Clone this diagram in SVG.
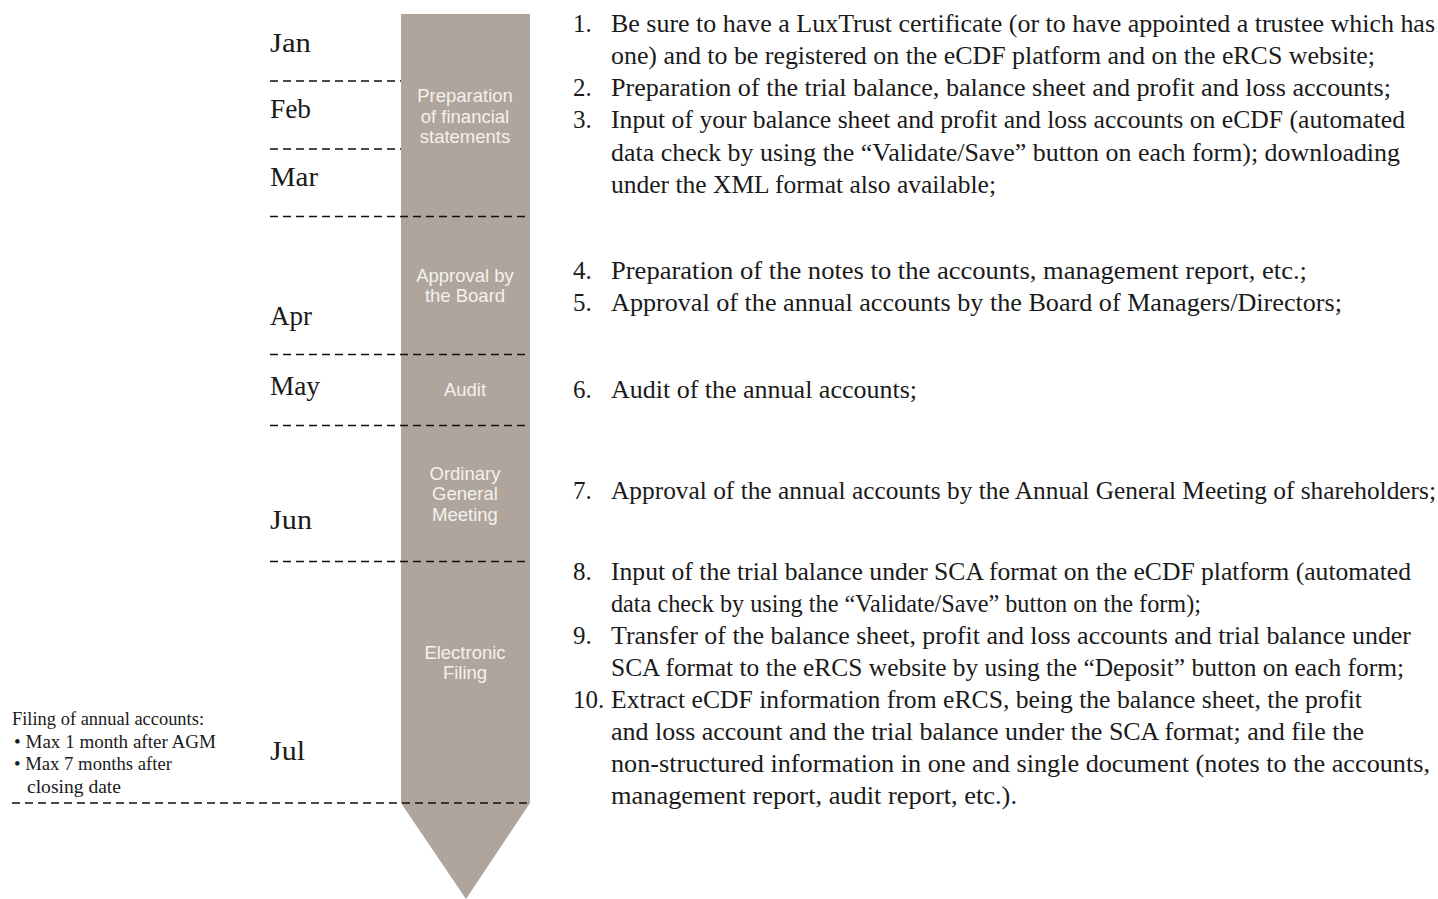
<svg xmlns="http://www.w3.org/2000/svg" width="1438" height="899" viewBox="0 0 1438 899">
<style>
.bg{fill:#ffffff}
.bar{fill:#afa59c}
.dash{stroke:#111111;stroke-width:1.6;stroke-dasharray:8 5;fill:none}
.month{font-family:"Liberation Serif","DejaVu Serif",serif;font-size:27px;fill:#1a1a1a}
.lbl{font-family:"Liberation Sans",Arial,sans-serif;font-size:18.5px;fill:#f4f1ee;text-anchor:middle}
.item{font-family:"Liberation Serif","DejaVu Serif",serif;font-size:25px;fill:#1a1a1a}
.note{font-family:"Liberation Serif","DejaVu Serif",serif;font-size:18.5px;fill:#1a1a1a}
</style>
<rect class="bg" x="0" y="0" width="1438" height="899"/>
<g id="timeline-bar">
<path class="bar" d="M401,14 H530 V803 L466,899 L401,803 Z"/>
</g>
<g id="connectors">
<line class="dash" x1="270" y1="81" x2="401" y2="81"/>
<line class="dash" x1="270" y1="149" x2="401" y2="149"/>
<line class="dash" x1="270" y1="216.5" x2="530" y2="216.5"/>
<line class="dash" x1="270" y1="354.5" x2="530" y2="354.5"/>
<line class="dash" x1="270" y1="425.5" x2="530" y2="425.5"/>
<line class="dash" x1="270" y1="561.5" x2="530" y2="561.5"/>
<line class="dash" x1="12" y1="803" x2="530" y2="803"/>
</g>
<g id="months">
<text class="month" x="270" y="52" textLength="41" lengthAdjust="spacingAndGlyphs">Jan</text>
<text class="month" x="270" y="118" textLength="41" lengthAdjust="spacingAndGlyphs">Feb</text>
<text class="month" x="270" y="186" textLength="48" lengthAdjust="spacingAndGlyphs">Mar</text>
<text class="month" x="270" y="325" textLength="42" lengthAdjust="spacingAndGlyphs">Apr</text>
<text class="month" x="270" y="395" textLength="50" lengthAdjust="spacingAndGlyphs">May</text>
<text class="month" x="270" y="529" textLength="42" lengthAdjust="spacingAndGlyphs">Jun</text>
<text class="month" x="270" y="760" textLength="35" lengthAdjust="spacingAndGlyphs">Jul</text>
</g>
<g id="phase-preparation">
<text class="lbl" x="465" y="102">Preparation</text>
<text class="lbl" x="465" y="123">of financial</text>
<text class="lbl" x="465" y="143">statements</text>
</g>
<g id="phase-approval">
<text class="lbl" x="465" y="282">Approval by</text>
<text class="lbl" x="465" y="302">the Board</text>
</g>
<g id="phase-audit">
<text class="lbl" x="465" y="396">Audit</text>
</g>
<g id="phase-ogm">
<text class="lbl" x="465" y="480">Ordinary</text>
<text class="lbl" x="465" y="500">General</text>
<text class="lbl" x="465" y="521">Meeting</text>
</g>
<g id="phase-filing">
<text class="lbl" x="465" y="659">Electronic</text>
<text class="lbl" x="465" y="679">Filing</text>
</g>
<g id="note">
<text class="note" x="12" y="725" textLength="192" lengthAdjust="spacingAndGlyphs">Filing of annual accounts:</text>
<text class="note" x="14" y="748" textLength="202" lengthAdjust="spacingAndGlyphs">• Max 1 month after AGM</text>
<text class="note" x="14" y="770" textLength="158" lengthAdjust="spacingAndGlyphs">• Max 7 months after</text>
<text class="note" x="27" y="793" textLength="94" lengthAdjust="spacingAndGlyphs">closing date</text>
</g>
<g id="steps">
<text class="item" x="573" y="32">1.</text>
<text class="item" x="611" y="32" textLength="824" lengthAdjust="spacingAndGlyphs">Be sure to have a LuxTrust certificate (or to have appointed a trustee which has</text>
<text class="item" x="611" y="64" textLength="764" lengthAdjust="spacingAndGlyphs">one) and to be registered on the eCDF platform and on the eRCS website;</text>
<text class="item" x="573" y="96">2.</text>
<text class="item" x="611" y="96" textLength="780" lengthAdjust="spacingAndGlyphs">Preparation of the trial balance, balance sheet and profit and loss accounts;</text>
<text class="item" x="573" y="128">3.</text>
<text class="item" x="611" y="128" textLength="794" lengthAdjust="spacingAndGlyphs">Input of your balance sheet and profit and loss accounts on eCDF (automated</text>
<text class="item" x="611" y="161" textLength="789" lengthAdjust="spacingAndGlyphs">data check by using the “Validate/Save” button on each form); downloading</text>
<text class="item" x="611" y="193" textLength="385" lengthAdjust="spacingAndGlyphs">under the XML format also available;</text>
<text class="item" x="573" y="279">4.</text>
<text class="item" x="611" y="279" textLength="696" lengthAdjust="spacingAndGlyphs">Preparation of the notes to the accounts, management report, etc.;</text>
<text class="item" x="573" y="311">5.</text>
<text class="item" x="611" y="311" textLength="731" lengthAdjust="spacingAndGlyphs">Approval of the annual accounts by the Board of Managers/Directors;</text>
<text class="item" x="573" y="398">6.</text>
<text class="item" x="611" y="398" textLength="306" lengthAdjust="spacingAndGlyphs">Audit of the annual accounts;</text>
<text class="item" x="573" y="499">7.</text>
<text class="item" x="611" y="499" textLength="825" lengthAdjust="spacingAndGlyphs">Approval of the annual accounts by the Annual General Meeting of shareholders;</text>
<text class="item" x="573" y="580">8.</text>
<text class="item" x="611" y="580" textLength="800" lengthAdjust="spacingAndGlyphs">Input of the trial balance under SCA format on the eCDF platform (automated</text>
<text class="item" x="611" y="612" textLength="590" lengthAdjust="spacingAndGlyphs">data check by using the “Validate/Save” button on the form);</text>
<text class="item" x="573" y="644">9.</text>
<text class="item" x="611" y="644" textLength="800" lengthAdjust="spacingAndGlyphs">Transfer of the balance sheet, profit and loss accounts and trial balance under</text>
<text class="item" x="611" y="676" textLength="793" lengthAdjust="spacingAndGlyphs">SCA format to the eRCS website by using the “Deposit” button on each form;</text>
<text class="item" x="573" y="708">10.</text>
<text class="item" x="611" y="708" textLength="751" lengthAdjust="spacingAndGlyphs">Extract eCDF information from eRCS, being the balance sheet, the profit</text>
<text class="item" x="611" y="740" textLength="753" lengthAdjust="spacingAndGlyphs">and loss account and the trial balance under the SCA format; and file the</text>
<text class="item" x="611" y="772" textLength="819" lengthAdjust="spacingAndGlyphs">non-structured information in one and single document (notes to the accounts,</text>
<text class="item" x="611" y="804" textLength="406" lengthAdjust="spacingAndGlyphs">management report, audit report, etc.).</text>
</g>
</svg>
